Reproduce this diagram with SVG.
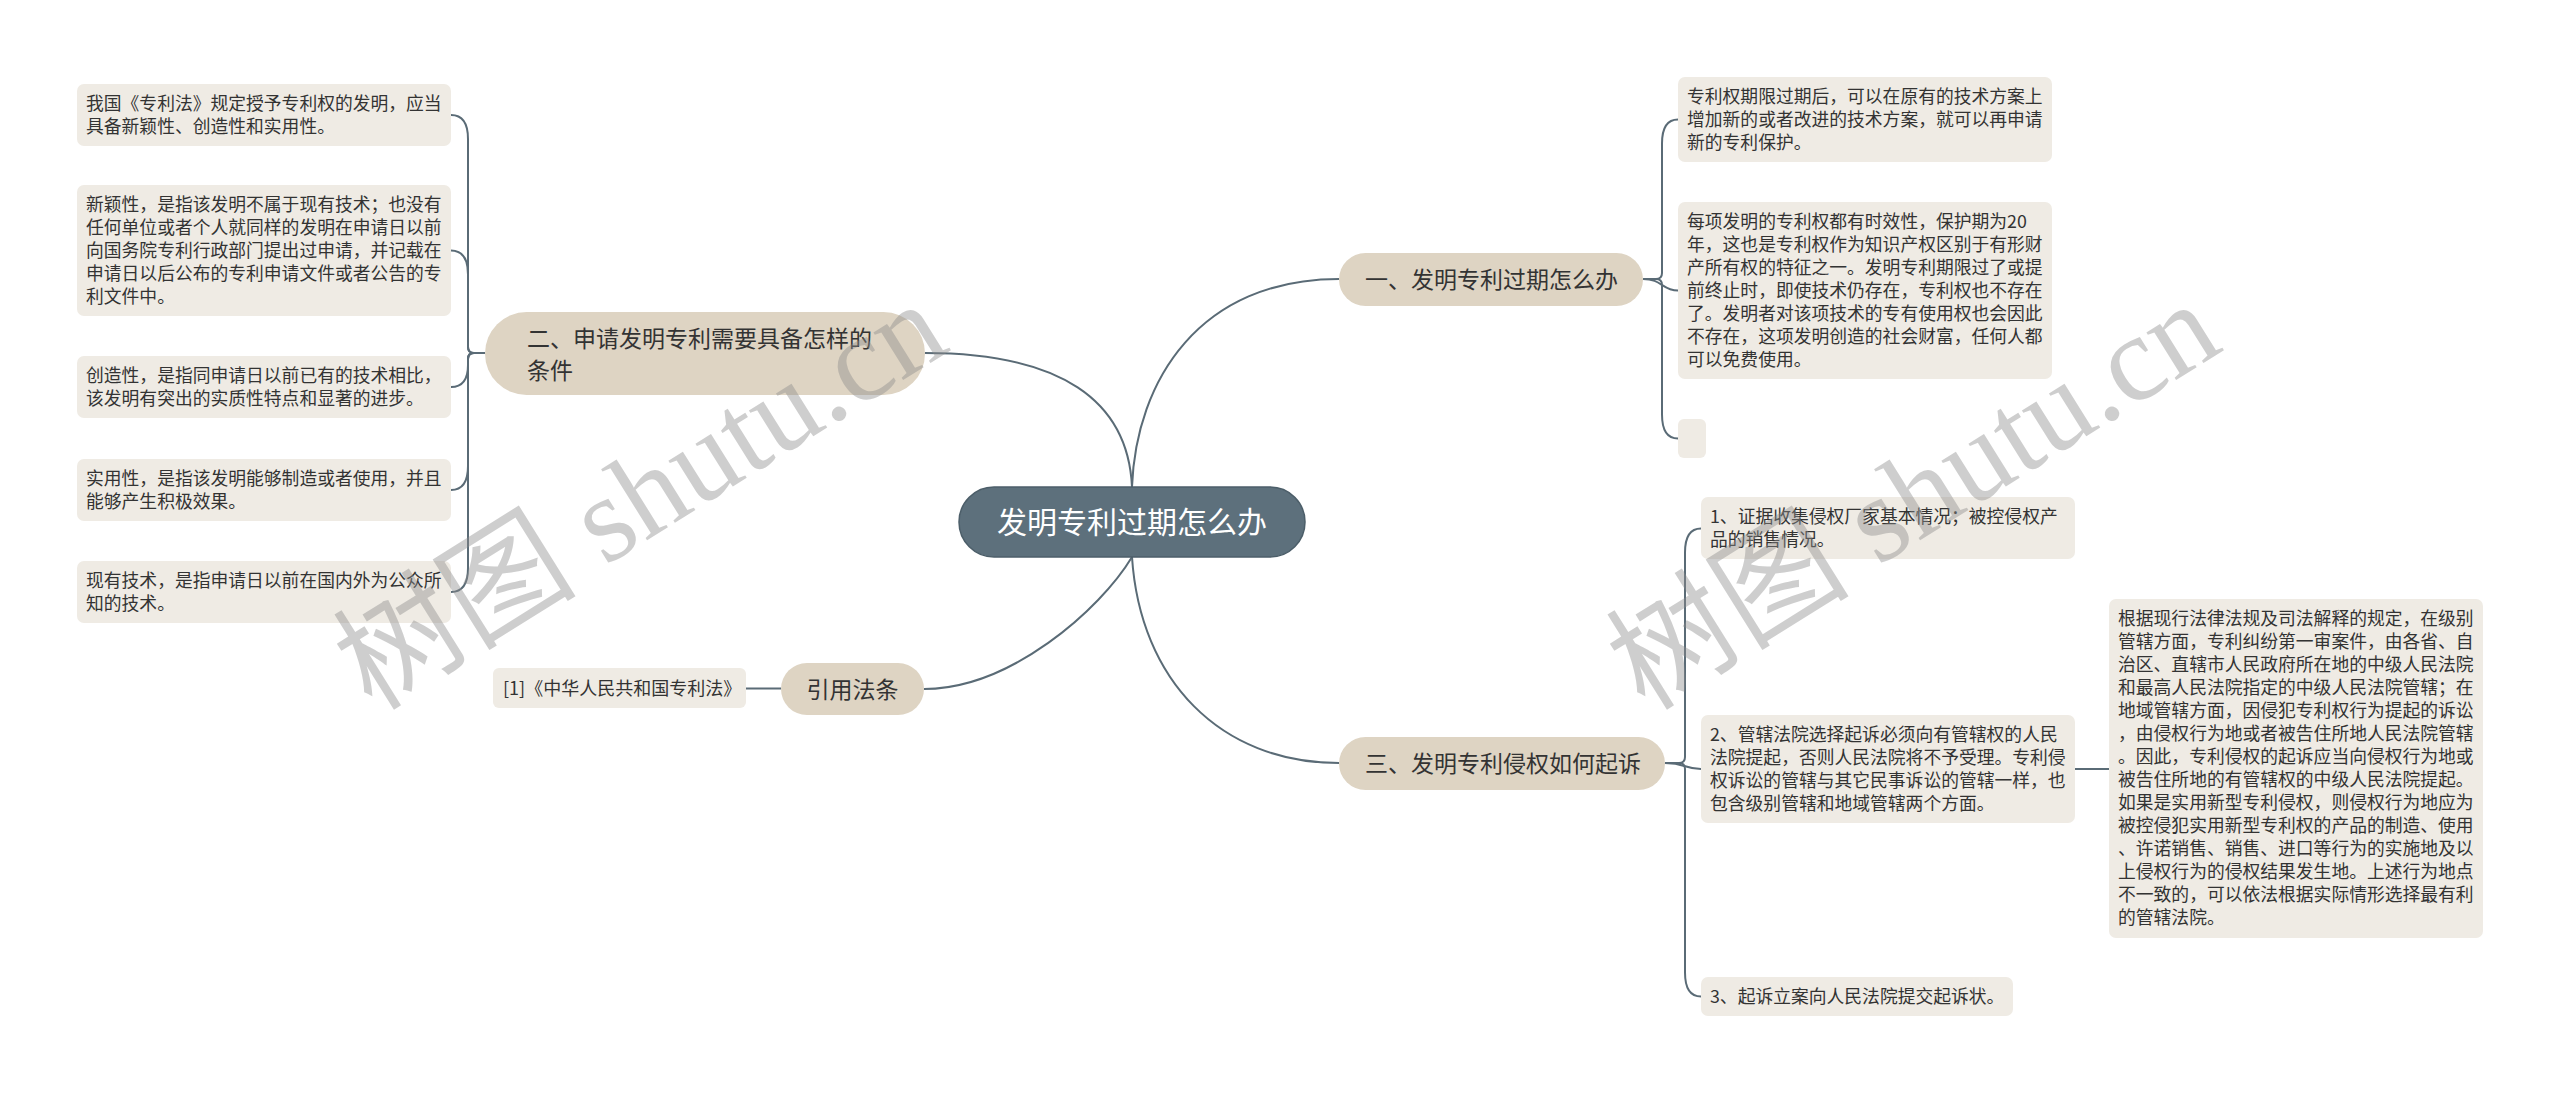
<svg xmlns="http://www.w3.org/2000/svg" width="2560" height="1094" viewBox="0 0 2560 1094">
<style>
.t{font-family:"Noto Sans CJK SC","Noto Sans",sans-serif;font-size:17.8px;fill:#333}
.n{font-family:"Noto Sans CJK SC","Noto Sans",sans-serif;font-size:23px;fill:#333}
.leaf{fill:#efebe4}
.node{fill:#ded4c3}
.c{fill:none;stroke:#5a6b76;stroke-width:2}
.wm{font-family:"Liberation Serif","Noto Sans CJK SC",serif;font-size:122px;fill:#8c8c8c;opacity:.42}
</style>
<rect width="2560" height="1094" fill="#fff"/>
<g id="connectors">
<path class="c" d="M1132,487 C1128,400 1060,353 925,353"/>
<path class="c" d="M1132,487 C1136,380 1200,279 1339,279"/>
<path class="c" d="M1132,557 C1100,610 1010,689 924,689"/>
<path class="c" d="M1132,557 C1140,680 1220,763 1339,763"/>
<path class="c" d="M485,353 H474 Q468,353 468,347 V139 Q468,115 451,115"/>
<path class="c" d="M485,353 H474 Q468,353 468,347 V274.5 Q468,250.5 451,250.5"/>
<path class="c" d="M485,353 H474 Q468,353 468,359 V365 Q468,387 451,387"/>
<path class="c" d="M485,353 H474 Q468,353 468,359 V466 Q468,490 451,490"/>
<path class="c" d="M485,353 H474 Q468,353 468,359 V568 Q468,592 451,592"/>
<path class="c" d="M746,688.5 H781"/>
<path class="c" d="M1643,279 H1656 Q1662,279 1662,273 V143.5 Q1662,119.5 1678,119.5"/>
<path class="c" d="M1643,279 C1662,279 1662,290.5 1678,290.5"/>
<path class="c" d="M1643,279 H1656 Q1662,279 1662,285 V414.5 Q1662,438.5 1678,438.5"/>
<path class="c" d="M1665,763 H1679 Q1685,763 1685,757 V552.5 Q1685,528.5 1701,528.5"/>
<path class="c" d="M1665,763 C1685,763 1685,769 1701,769"/>
<path class="c" d="M1665,763 H1679 Q1685,763 1685,769 V972.5 Q1685,996.5 1701,996.5"/>
<path class="c" d="M2075,769 H2109"/>
</g>
<g id="center">
<rect x="959" y="487" width="346" height="70" rx="35" fill="#5d707c" stroke="#4c5e69" stroke-width="1.5"/>
<text x="1132" y="533" text-anchor="middle" font-family="Noto Sans CJK SC, Noto Sans, sans-serif" font-size="30" fill="#fff">发明专利过期怎么办</text>
</g>
<g id="n2">
<rect class="node" x="485" y="312" width="440" height="83" rx="41.5"/>
<text class="n"><tspan x="527" y="346.5">二、申请发明专利需要具备怎样的</tspan><tspan x="527" y="378.5">条件</tspan></text>
</g>
<g id="b1">
<rect class="leaf" x="77" y="84" width="374" height="62" rx="7"/>
<text class="t"><tspan x="86" y="110">我国《专利法》规定授予专利权的发明，应当</tspan><tspan x="86" dy="23">具备新颖性、创造性和实用性。</tspan></text>
</g>
<g id="b2">
<rect class="leaf" x="77" y="185" width="374" height="131" rx="7"/>
<text class="t"><tspan x="86" y="211">新颖性，是指该发明不属于现有技术；也没有</tspan><tspan x="86" dy="23">任何单位或者个人就同样的发明在申请日以前</tspan><tspan x="86" dy="23">向国务院专利行政部门提出过申请，并记载在</tspan><tspan x="86" dy="23">申请日以后公布的专利申请文件或者公告的专</tspan><tspan x="86" dy="23">利文件中。</tspan></text>
</g>
<g id="b3">
<rect class="leaf" x="77" y="356" width="374" height="62" rx="7"/>
<text class="t"><tspan x="86" y="382">创造性，是指同申请日以前已有的技术相比，</tspan><tspan x="86" dy="23">该发明有突出的实质性特点和显著的进步。</tspan></text>
</g>
<g id="b4">
<rect class="leaf" x="77" y="459" width="374" height="62" rx="7"/>
<text class="t"><tspan x="86" y="485">实用性，是指该发明能够制造或者使用，并且</tspan><tspan x="86" dy="23">能够产生积极效果。</tspan></text>
</g>
<g id="b5">
<rect class="leaf" x="77" y="561" width="374" height="62" rx="7"/>
<text class="t"><tspan x="86" y="587">现有技术，是指申请日以前在国内外为公众所</tspan><tspan x="86" dy="23">知的技术。</tspan></text>
</g>
<g id="ref">
<rect class="node" x="781" y="663" width="143" height="52" rx="26"/>
<text class="n" x="852.5" y="697.5" text-anchor="middle">引用法条</text>
</g>
<g id="ref1">
<rect class="leaf" x="493" y="668" width="253" height="40" rx="6"/>
<text class="t" x="503" y="695" style="font-size:18px">[1]《中华人民共和国专利法》</text>
</g>
<g id="n1">
<rect class="node" x="1339" y="253" width="304" height="53" rx="26.5"/>
<text class="n" x="1365" y="287.5">一、发明专利过期怎么办</text>
</g>
<g id="c1">
<rect class="leaf" x="1678" y="77" width="374" height="85" rx="7"/>
<text class="t"><tspan x="1687" y="103">专利权期限过期后，可以在原有的技术方案上</tspan><tspan x="1687" dy="23">增加新的或者改进的技术方案，就可以再申请</tspan><tspan x="1687" dy="23">新的专利保护。</tspan></text>
</g>
<g id="c2">
<rect class="leaf" x="1678" y="202" width="374" height="177" rx="7"/>
<text class="t"><tspan x="1687" y="228">每项发明的专利权都有时效性，保护期为20</tspan><tspan x="1687" dy="23">年，这也是专利权作为知识产权区别于有形财</tspan><tspan x="1687" dy="23">产所有权的特征之一。发明专利期限过了或提</tspan><tspan x="1687" dy="23">前终止时，即使技术仍存在，专利权也不存在</tspan><tspan x="1687" dy="23">了。发明者对该项技术的专有使用权也会因此</tspan><tspan x="1687" dy="23">不存在，这项发明创造的社会财富，任何人都</tspan><tspan x="1687" dy="23">可以免费使用。</tspan></text>
</g>
<g id="c3">
<rect class="leaf" x="1678" y="419" width="28" height="39" rx="6"/>
</g>
<g id="n3">
<rect class="node" x="1339" y="737" width="326" height="53" rx="26.5"/>
<text class="n" x="1365" y="771.5">三、发明专利侵权如何起诉</text>
</g>
<g id="d1">
<rect class="leaf" x="1701" y="497" width="374" height="62" rx="7"/>
<text class="t"><tspan x="1710" y="523">1、证据收集侵权厂家基本情况；被控侵权产</tspan><tspan x="1710" dy="23">品的销售情况。</tspan></text>
</g>
<g id="d2">
<rect class="leaf" x="1701" y="715" width="374" height="108" rx="7"/>
<text class="t"><tspan x="1710" y="741">2、管辖法院选择起诉必须向有管辖权的人民</tspan><tspan x="1710" dy="23">法院提起，否则人民法院将不予受理。专利侵</tspan><tspan x="1710" dy="23">权诉讼的管辖与其它民事诉讼的管辖一样，也</tspan><tspan x="1710" dy="23">包含级别管辖和地域管辖两个方面。</tspan></text>
</g>
<g id="d3">
<rect class="leaf" x="1701" y="977" width="312" height="39" rx="7"/>
<text class="t" x="1710" y="1003">3、起诉立案向人民法院提交起诉状。</text>
</g>
<g id="e1">
<rect class="leaf" x="2109" y="599" width="374" height="339" rx="7"/>
<text class="t"><tspan x="2118" y="625">根据现行法律法规及司法解释的规定，在级别</tspan><tspan x="2118" dy="23">管辖方面，专利纠纷第一审案件，由各省、自</tspan><tspan x="2118" dy="23">治区、直辖市人民政府所在地的中级人民法院</tspan><tspan x="2118" dy="23">和最高人民法院指定的中级人民法院管辖；在</tspan><tspan x="2118" dy="23">地域管辖方面，因侵犯专利权行为提起的诉讼</tspan><tspan x="2118" dy="23">，由侵权行为地或者被告住所地人民法院管辖</tspan><tspan x="2118" dy="23">。因此，专利侵权的起诉应当向侵权行为地或</tspan><tspan x="2118" dy="23">被告住所地的有管辖权的中级人民法院提起。</tspan><tspan x="2118" dy="23">如果是实用新型专利侵权，则侵权行为地应为</tspan><tspan x="2118" dy="23">被控侵犯实用新型专利权的产品的制造、使用</tspan><tspan x="2118" dy="23">、许诺销售、销售、进口等行为的实施地及以</tspan><tspan x="2118" dy="23">上侵权行为的侵权结果发生地。上述行为地点</tspan><tspan x="2118" dy="23">不一致的，可以依法根据实际情形选择最有利</tspan><tspan x="2118" dy="23">的管辖法院。</tspan></text>
</g>
<g id="watermark">
<text class="wm" transform="translate(372,712) rotate(-32)">树图 shutu.cn</text>
<text class="wm" transform="translate(1645,712) rotate(-32)">树图 shutu.cn</text>
</g>
</svg>
